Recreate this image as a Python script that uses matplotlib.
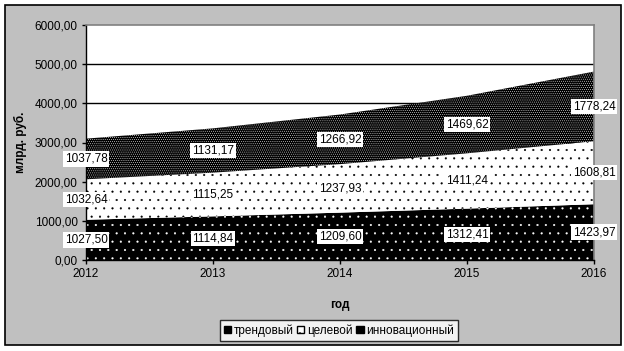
import matplotlib
matplotlib.use("Agg")
import matplotlib.pyplot as plt
from matplotlib.patches import Patch, Rectangle
import numpy as np

plt.rcParams["font.family"] = ["Liberation Sans", "DejaVu Sans"]
plt.rcParams["hatch.linewidth"] = 0.3

years = [2012, 2013, 2014, 2015, 2016]
trend = [1027.50, 1114.84, 1209.60, 1312.41, 1423.97]
target = [1032.64, 1115.25, 1237.93, 1411.24, 1608.81]
innov = [1037.78, 1131.17, 1266.92, 1469.62, 1778.24]
series_names = ["трендовый", "целевой", "инновационный"]
yticks = [0, 1000, 2000, 3000, 4000, 5000, 6000]

W, H = 624, 351
fig = plt.figure(figsize=(W / 100, H / 100), dpi=100)
fig.patch.set_facecolor("white")
# gray chart area with black border
fig.patches.append(Rectangle((5 / W, 1 - 345 / H), 616 / W, 340 / H,
                             transform=fig.transFigure, facecolor="#C0C0C0",
                             edgecolor="black", linewidth=1.2, zorder=-10))

ax = fig.add_axes([86 / W, 1 - 260 / H, 508 / W, 235 / H])
ax.set_facecolor("white")

x = np.array(years)
b1 = np.array(trend)
b2 = b1 + np.array(target)
b3 = b2 + np.array(innov)

styles = [
    dict(facecolor="black", edgecolor="white", hatch=".."),
    dict(facecolor="white", edgecolor="black", hatch=".."),
    dict(facecolor="black", edgecolor="white", hatch="........"),
]
lows = [np.zeros_like(b1), b1, b2]
highs = [b1, b2, b3]
vals = [trend, target, innov]
for lo, hi, st in zip(lows, highs, styles):
    ax.fill_between(x, lo, hi, linewidth=0, zorder=1, **st)

for g in yticks[1:-1]:
    ax.axhline(g, color="black", linewidth=1.0, zorder=0.5)

for lo, hi, v in zip(lows, highs, vals):
    for xi, l, h, val in zip(x, lo, hi, v):
        ax.text(xi, (l + h) / 2, f"{val:.2f}".replace(".", ","), ha="center",
                va="center", fontsize=8.5, zorder=5, clip_on=False,
                bbox=dict(facecolor="white", edgecolor="none", pad=1.2))

ax.set_xlim(2012, 2016)
ax.set_ylim(0, 6000)
ax.set_xticks(years)
ax.set_xticklabels([str(y) for y in years], fontsize=8.5)
ax.set_yticks(yticks)
ax.set_yticklabels([f"{t:.2f}".replace(".", ",") for t in yticks], fontsize=8.5)
ax.tick_params(direction="out", length=3, width=1, color="black", pad=3)
for s in ["left", "bottom"]:
    ax.spines[s].set_color("black")
    ax.spines[s].set_linewidth(1.0)
for s in ["top", "right"]:
    ax.spines[s].set_color("#808080")
    ax.spines[s].set_linewidth(1.2)

ax.set_xlabel("год", fontsize=8.5, fontweight="bold")
ax.set_ylabel("млрд. руб.", fontsize=8.5, fontweight="bold")
ax.xaxis.set_label_coords(0.5, -0.165)
ax.yaxis.set_label_coords(-0.116, 0.5)

handles = [Patch(facecolor=st["facecolor"], edgecolor="black", hatch=st["hatch"])
           for st in styles]
leg = fig.legend(handles, series_names, loc="center",
                 bbox_to_anchor=(339 / W, 1 - 330.5 / H), ncol=3,
                 fontsize=8.5, frameon=True, fancybox=False, shadow=False,
                 handlelength=0.6, handleheight=0.6, handletextpad=0.25,
                 columnspacing=0.3, borderpad=0.35, borderaxespad=0)
leg.get_frame().set_edgecolor("black")
leg.get_frame().set_linewidth(1.0)

fig.savefig("out.png", dpi=100)
